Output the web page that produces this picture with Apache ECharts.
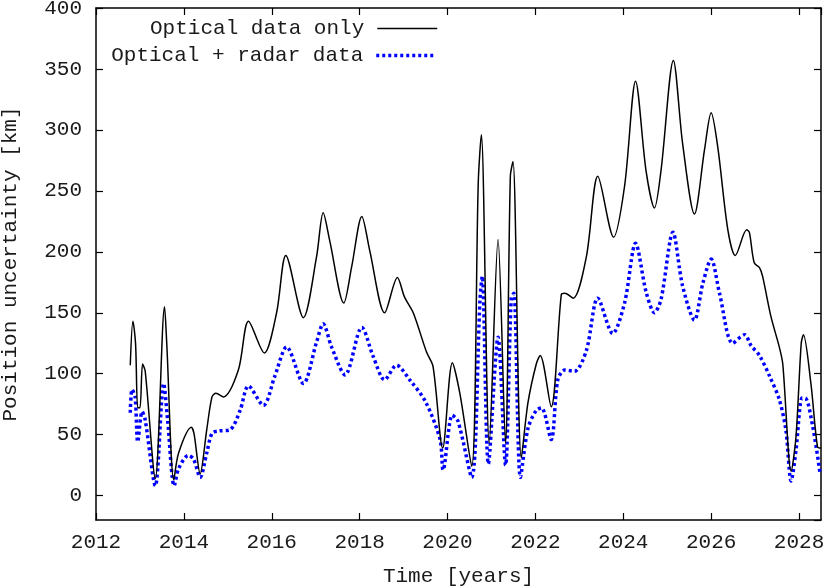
<!DOCTYPE html>
<html>
<head>
<meta charset="utf-8">
<script src="https://cdn.jsdelivr.net/npm/echarts@6/dist/echarts.min.js"></script>
<style>
  html, body { margin: 0; padding: 0; background: #fff; }
  #chart { width: 830px; height: 587px; }
</style>
</head>
<body>
<div id="chart"></div>
<script>
// optical data only (black solid)
const opticalYears = [
  2012.78, 2012.84, 2012.9, 2012.95, 2013.0, 2013.06, 2013.12, 2013.35, 2013.56, 2013.61,
  2013.77, 2013.88, 2014.17, 2014.23, 2014.37, 2014.52, 2014.64, 2014.73, 2014.9, 2015.24,
  2015.47, 2015.83, 2016.11, 2016.32, 2016.72, 2017.02, 2017.17, 2017.32, 2017.64, 2017.82,
  2018.05, 2018.23, 2018.57, 2018.86, 2019.02, 2019.22, 2019.52, 2019.67, 2019.89, 2020.11,
  2020.28, 2020.55, 2020.7, 2020.77, 2020.95, 2021.15, 2021.32, 2021.43, 2021.49, 2021.68,
  2021.83, 2022.02, 2022.11, 2022.36, 2022.59, 2022.67, 2022.86, 2023.16, 2023.42, 2023.78,
  2024.03, 2024.28, 2024.52, 2024.71, 2024.86, 2025.14, 2025.35, 2025.62, 2025.85, 2026.0,
  2026.15, 2026.38, 2026.55, 2026.81, 2026.87, 2026.98, 2027.1, 2027.17, 2027.36, 2027.55,
  2027.63, 2027.82, 2027.93, 2028.05, 2028.1, 2028.27, 2028.42, 2028.5
];
const opticalValues = [
  107, 143, 125, 72, 72, 108, 102, 14, 155, 125,
  13, 35, 56, 51, 18, 54, 81, 84, 81, 103,
  143, 117, 150, 197, 146, 196, 232, 209, 158, 188,
  229, 201, 150, 179, 163, 150, 118, 106, 39, 109,
  84, 24, 257, 296, 43, 210, 43, 262, 274, 31,
  76, 108, 115, 73, 165, 166, 162, 196, 262, 212,
  254, 340, 266, 236, 267, 357, 289, 231, 284, 314,
  286, 218, 197, 218, 216, 191, 187, 180, 147, 122,
  108, 20, 48, 125, 132, 92, 40, 39
];

// optical + radar data (blue dotted)
const radarYears = [
  2012.78, 2012.82, 2012.89, 2012.95, 2013.05, 2013.12, 2013.35, 2013.54, 2013.63, 2013.78,
  2013.88, 2014.1, 2014.22, 2014.37, 2014.52, 2014.64, 2014.79, 2015.05, 2015.28, 2015.47,
  2015.81, 2016.07, 2016.34, 2016.72, 2017.02, 2017.17, 2017.36, 2017.67, 2018.05, 2018.31,
  2018.57, 2018.84, 2019.14, 2019.5, 2019.83, 2019.9, 2020.11, 2020.24, 2020.55, 2020.74,
  2020.79, 2020.93, 2021.15, 2021.32, 2021.45, 2021.51, 2021.66, 2021.83, 2022.02, 2022.14,
  2022.36, 2022.51, 2022.67, 2022.89, 2023.16, 2023.42, 2023.76, 2024.03, 2024.28, 2024.52,
  2024.71, 2024.86, 2025.13, 2025.35, 2025.62, 2025.81, 2026.0, 2026.19, 2026.49, 2026.76,
  2026.91, 2027.1, 2027.33, 2027.55, 2027.7, 2027.82, 2027.93, 2028.07, 2028.14, 2028.31,
  2028.48
];
const radarValues = [
  68, 87, 81, 44, 69, 62, 8, 92, 62, 8,
  22, 33, 30, 15, 35, 51, 53, 54, 70, 90,
  74, 98, 122, 92, 126, 141, 122, 99, 138, 114,
  95, 107, 95, 77, 46, 21, 66, 61, 15, 161,
  180, 26, 130, 25, 162, 166, 15, 55, 70, 72,
  46, 95, 103, 102, 119, 162, 133, 158, 207, 167,
  150, 161, 216, 172, 144, 174, 194, 166, 125, 132,
  123, 115, 98, 79, 54, 12, 37, 80, 80, 57,
  18
];

const xTicks = [2012, 2014, 2016, 2018, 2020, 2022, 2024, 2026, 2028];
const yTicks = [0, 50, 100, 150, 200, 250, 300, 350, 400];

const font = 'Liberation Mono';
const ink = '#1a1a1a';

const pairs = (xs, ys) => xs.map((x, i) => [x, ys[i]]);

const chart = echarts.init(document.getElementById('chart'));

const xBase = {
  type: 'value',
  min: 2012,
  max: 2028.5,
  interval: 2,
  splitLine: { show: false },
  axisLine: { show: true, onZero: false, lineStyle: { color: '#000', width: 1.5 } },
  axisTick: { show: true, inside: true, length: 7, lineStyle: { color: '#000', width: 1.2 } }
};
const yBase = {
  type: 'value',
  min: -20,
  max: 400,
  splitNumber: 8,
  splitLine: { show: false },
  axisLine: { show: true, onZero: false, lineStyle: { color: '#000', width: 1.5 } },
  axisTick: { show: true, inside: true, length: 7, lineStyle: { color: '#000', width: 1.2 } }
};

const legendBase = {
  right: 387,
  align: 'right',
  itemWidth: 60,
  itemHeight: 14,
  itemStyle: { opacity: 0 },
  textStyle: { fontFamily: font, fontSize: 21, color: ink, padding: [0, 8, 0, 0] }
};

chart.setOption({
  animation: false,
  backgroundColor: '#fff',
  grid: { left: 96, top: 8, width: 725, height: 512, containLabel: false, outerBoundsMode: 'none' },
  legend: [
    Object.assign({}, legendBase, {
      data: [{ name: 'Optical data only', lineStyle: { width: 1.5 } }],
      top: 13
    }),
    Object.assign({}, legendBase, {
      data: [{ name: 'Optical + radar data', lineStyle: { width: 3.5, type: [3, 3] } }],
      top: 40
    })
  ],
  xAxis: [
    Object.assign({}, xBase, {
      position: 'bottom',
      name: 'Time [years]',
      nameLocation: 'middle',
      nameGap: 46,
      nameTextStyle: { fontFamily: font, fontSize: 21, color: ink },
      axisLabel: {
        fontFamily: font, fontSize: 21, color: ink, margin: 12,
        showMaxLabel: false,
        formatter: v => (xTicks.indexOf(v) >= 0 ? String(v) : '')
      }
    }),
    Object.assign({}, xBase, { position: 'top', axisLabel: { show: false } })
  ],
  yAxis: [
    Object.assign({}, yBase, {
      position: 'left',
      name: 'Position uncertainty [km]',
      nameLocation: 'middle',
      nameGap: 75,
      nameTextStyle: { fontFamily: font, fontSize: 21, color: ink },
      axisLabel: {
        fontFamily: font, fontSize: 21, color: ink, margin: 14,
        showMinLabel: false,
        formatter: v => (yTicks.indexOf(v) >= 0 ? String(v) : '')
      }
    }),
    Object.assign({}, yBase, { position: 'right', axisLabel: { show: false } })
  ],
  series: [
    {
      name: 'Optical data only',
      type: 'line',
      data: pairs(opticalYears, opticalValues),
      symbol: 'none',
      smooth: 0.3,
      color: '#000',
      lineStyle: { color: '#000', width: 1.5 },
      z: 3
    },
    {
      name: 'Optical + radar data',
      type: 'line',
      data: pairs(radarYears, radarValues),
      symbol: 'none',
      smooth: 0.3,
      color: '#0000ff',
      lineStyle: { color: '#0000ff', width: 3.5, type: [3, 3] },
      z: 2
    }
  ]
});
</script>
</body>
</html>
